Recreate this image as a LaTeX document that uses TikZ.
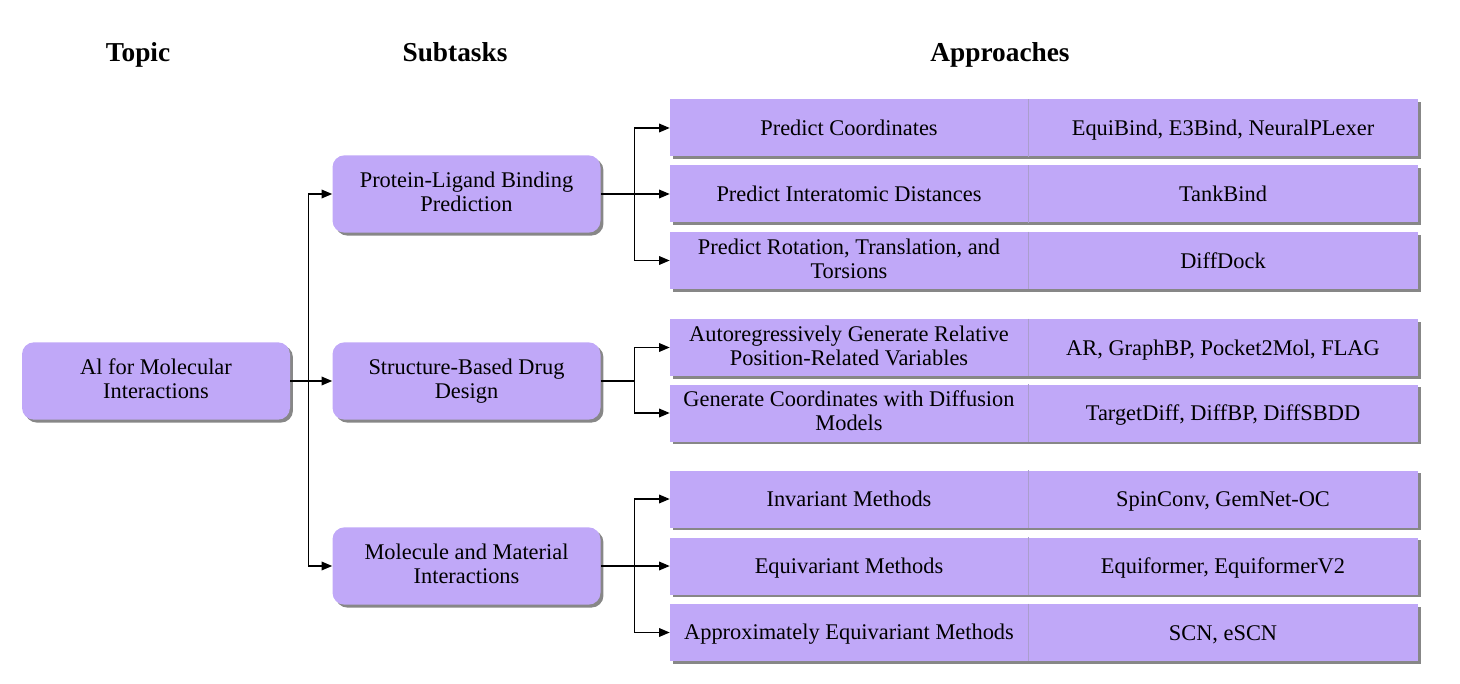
\documentclass[tikz,border=0pt]{standalone}
\usepackage{fontspec}
\setmainfont{Liberation Serif}
\usetikzlibrary{arrows.meta, positioning, shadows}
\definecolor{boxlilac}{RGB}{192, 168, 248}
\definecolor{shadowgray}{RGB}{95, 95, 95}
\definecolor{divgray}{RGB}{170, 158, 205}
\newcommand{\boxstrut}{\rule[-3.15pt]{0pt}{18pt}}

\begin{document}
\begin{tikzpicture}[x=0.75pt, y=-0.75pt,
    every node/.style={font=\fontsize{16.8}{18}\selectfont, align=center, inner sep=0pt},
    strutted/.style={execute at begin node=\boxstrut, execute at end node=\boxstrut},
    boxshadow/.style={drop shadow={shadow xshift=2.2pt, shadow yshift=-2.2pt, fill=shadowgray, opacity=0.75}},
    roundbox/.style={boxshadow, strutted, fill=boxlilac, rounded corners=9pt, minimum width=201pt, minimum height=58pt},
    methbox/.style={boxshadow, strutted, fill=boxlilac, minimum width=268.5pt, minimum height=42.75pt},
    refsbox/.style={boxshadow, strutted, fill=boxlilac, minimum width=292.5pt, minimum height=42.75pt},
    divider/.style={divgray, line width=0.6pt},
    conn/.style={line width=1pt},
    arrow/.style={line width=1pt, -{Triangle[length=8pt, width=6.5pt]}},
    heading/.style={font=\fontsize{20.5}{24}\selectfont\bfseries, anchor=base}]
    \useasboundingbox (0,0) rectangle (1460,684);

    % Column headings
    \node[heading] (htopic) at (138, 62) {Topic};
    \node[heading] (hsub) at (455, 62) {Subtasks};
    \node[heading] (happ) at (1000, 62) {Approaches};

    % Topic and subtasks
    \node[roundbox] (topic) at (156, 381) {Al for Molecular\\Interactions};
    \node[roundbox] (plb) at (466.5, 194) {Protein-Ligand Binding\\Prediction};
    \node[roundbox] (sbdd) at (466.5, 381) {Structure-Based Drug\\Design};
    \node[roundbox] (mmi) at (466.5, 566) {Molecule and Material\\Interactions};

    % Approaches (method | references)
    \foreach \n/\y/\m/\r in {
        pc/128/{Predict Coordinates}/{EquiBind, E3Bind, NeuralPLexer},
        pid/194/{Predict Interatomic Distances}/{TankBind},
        prt/260.5/{Predict Rotation, Translation, and\\Torsions}/{DiffDock},
        arg/347.5/{Autoregressively Generate Relative\\Position-Related Variables}/{AR, GraphBP, Pocket2Mol, FLAG},
        gcd/413/{Generate Coordinates with Diffusion\\Models}/{TargetDiff, DiffBP, DiffSBDD},
        inv/499/{Invariant Methods}/{SpinConv, GemNet-OC},
        eqv/566/{Equivariant Methods}/{Equiformer, EquiformerV2},
        aeq/632.5/{Approximately Equivariant Methods}/{SCN, eSCN}} {
        \node[methbox] (meth\n) at (849, \y) {\m};
        \node[refsbox] (refs\n) at (1223, \y) {\r};
        \draw[divider] (meth\n.north east) -- (meth\n.south east);
    }

    % Topic -> subtasks
    \draw[conn] (topic.east) -- ++(18,0) coordinate (tj);
    \foreach \s in {plb, sbdd, mmi}
        \draw[arrow] (tj) |- (\s.west);

    % Subtasks -> approaches
    \draw[conn] (plb.east) -- ++(34,0) coordinate (pj);
    \foreach \a in {pc, pid, prt}
        \draw[arrow] (pj) |- (meth\a.west);
    \draw[conn] (sbdd.east) -- ++(34,0) coordinate (sj);
    \foreach \a in {arg, gcd}
        \draw[arrow] (sj) |- (meth\a.west);
    \draw[conn] (mmi.east) -- ++(34,0) coordinate (mj);
    \foreach \a in {inv, eqv, aeq}
        \draw[arrow] (mj) |- (meth\a.west);
\end{tikzpicture}
\end{document}
